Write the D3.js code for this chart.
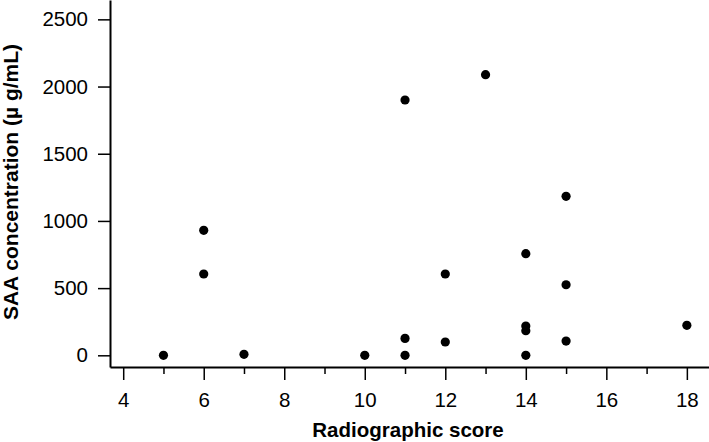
<!DOCTYPE html>
<html lang="en">
<head>
    <meta charset="UTF-8">
    <title>SAA vs radiographic score</title>
    <script src="https://cdnjs.cloudflare.com/ajax/libs/d3/7.8.4/d3.min.js"></script>
    <style>
        body { margin: 0; background: #fff; }
        svg { display: block; }
        text { font-family: "Liberation Sans", Arial, sans-serif; fill: #000; }
    </style>
</head>
<body>
    <svg width="709" height="442"></svg>

    <script>
        // data
        const scores = [5, 6, 6, 7, 10, 11, 11, 11, 12, 12, 13, 14, 14, 14, 14, 15, 15, 15, 18];
        const saa = [0, 930, 605, 7, 0, 1900, 126, 0, 605, 99, 2088, 756, 218, 183, 0, 1183, 525, 106, 223];
        const xMajorTicks = [4, 6, 8, 10, 12, 14, 16, 18];
        const xMinorTicks = [5, 7, 9, 11, 13, 15, 17];
        const yTicks = [0, 500, 1000, 1500, 2000, 2500];

        const points = scores.map((s, i) => ({ x: s, y: saa[i] }));

        const svg = d3.select("svg");

        const x = d3.scaleLinear().domain([3.672, 18.55]).range([110, 709]);
        const y = d3.scaleLinear().domain([-87, 2644]).range([367, 0]);

        // Y axis
        const yAxis = svg.append("g")
            .attr("transform", "translate(110,0)")
            .call(d3.axisLeft(y).tickValues(yTicks).tickFormat(d3.format("d"))
                .tickSize(12).tickSizeOuter(0).tickPadding(10));
        yAxis.select(".domain").attr("stroke-width", 2);
        yAxis.selectAll(".tick line").attr("stroke-width", 1.5);
        yAxis.selectAll(".tick text").style("font-size", "20.5px").attr("fill", "#000");

        // X axis (major + minor ticks)
        const xAxis = svg.append("g")
            .attr("transform", "translate(0,367)")
            .call(d3.axisBottom(x).tickValues(xMajorTicks).tickSize(13).tickSizeOuter(0).tickPadding(12));
        xAxis.select(".domain").attr("stroke-width", 2);
        xAxis.selectAll(".tick line").attr("stroke-width", 1.5);
        xAxis.selectAll(".tick text").style("font-size", "20.5px").attr("fill", "#000");

        const xMinor = svg.append("g")
            .attr("transform", "translate(0,367)")
            .call(d3.axisBottom(x).tickValues(xMinorTicks).tickSize(7).tickFormat(""));
        xMinor.select(".domain").remove();
        xMinor.selectAll(".tick line").attr("stroke-width", 1.5);

        // points
        svg.append("g")
            .selectAll("circle")
            .data(points)
            .enter().append("circle")
            .attr("cx", d => x(d.x))
            .attr("cy", d => y(d.y))
            .attr("r", 4.6)
            .style("fill", "#000");

        // axis titles
        svg.append("text")
            .attr("x", 408)
            .attr("y", 437)
            .attr("text-anchor", "middle")
            .style("font-size", "20.5px")
            .style("font-weight", "bold")
            .text("Radiographic score");

        svg.append("text")
            .attr("transform", "translate(18,182) rotate(-90)")
            .attr("text-anchor", "middle")
            .style("font-size", "21px")
            .style("font-weight", "bold")
            .text("SAA concentration (\u00b5 g/mL)");
    </script>
</body>
</html>
